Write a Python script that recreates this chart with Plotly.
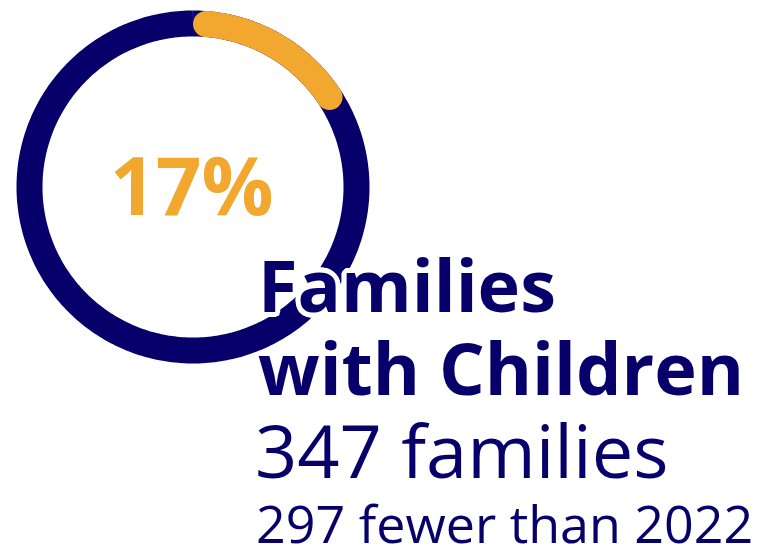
import numpy as np
import plotly.graph_objects as go

NAVY = "#07006B"
ORANGE = "#F2A72F"

# data
share_pct = 17
label_pct = "17%"
title_lines = ["Families", "with Children"]
count_text = "347 families"
change_text = "297 fewer than 2022"

W, H = 761, 552
RING_W = 26          # ring thickness in px
RING_R_PX = 163.5    # mid-line radius in px
CX, CY = 193, 187    # ring centre in px (from top-left)
R_MAX = 1.1

# round caps are kept inside the arc, so trim half the thickness at each end
cap_deg = np.degrees((RING_W / 2) / RING_R_PX)
arc_start = cap_deg
arc_end = share_pct / 100 * 360 - cap_deg

full_theta = np.linspace(0, 360, 361)
arc_theta = np.linspace(arc_start, arc_end, 120)

fig = go.Figure()
fig.add_trace(go.Scatterpolar(
    r=[1] * len(full_theta), theta=full_theta, mode="lines",
    line=dict(color=NAVY, width=RING_W), hoverinfo="skip",
))
fig.add_trace(go.Scatterpolar(
    r=[1] * len(arc_theta), theta=arc_theta, mode="lines",
    line=dict(color=ORANGE, width=RING_W), hoverinfo="skip",
))
# round end caps
fig.add_trace(go.Scatterpolar(
    r=[1, 1], theta=[arc_start, arc_end], mode="markers",
    marker=dict(size=RING_W, color=ORANGE, opacity=1, line=dict(width=0)),
    hoverinfo="skip",
))

rad_px = RING_R_PX * R_MAX
fig.update_layout(
    width=W, height=H,
    paper_bgcolor="white",
    showlegend=False,
    margin=dict(l=0, r=0, t=0, b=0),
    polar=dict(
        domain=dict(x=[(CX - rad_px) / W, (CX + rad_px) / W],
                    y=[(H - CY - rad_px) / H, (H - CY + rad_px) / H]),
        bgcolor="white",
        radialaxis=dict(range=[0, R_MAX], visible=False, showgrid=False),
        angularaxis=dict(rotation=90, direction="clockwise", visible=False,
                         showgrid=False, showline=False),
    ),
)

# white halo round the bold titles, like a stroke behind the glyphs
halo = ", ".join(
    f"{5 * np.cos(a):.1f}px {5 * np.sin(a):.1f}px 0 white"
    for a in np.linspace(0, 2 * np.pi, 24, endpoint=False)
)


def add_text(text, x_px, y_px, size, color, bold, anchor="left", shadow="none"):
    fig.add_annotation(
        text=text, xref="paper", yref="paper",
        x=x_px / W, y=1 - y_px / H, xanchor=anchor, yanchor="middle",
        showarrow=False,
        font=dict(family="Open Sans", size=size, color=color,
                  weight=700 if bold else 400, shadow=shadow),
    )


add_text(label_pct, 191.5, 215 - 0.388 * 80, 80, ORANGE, True, anchor="center")
add_text(title_lines[0], 256, 312 - 0.388 * 72, 72, NAVY, True, shadow=halo)
add_text(title_lines[1], 256, 395 - 0.388 * 72, 72, NAVY, True, shadow=halo)
add_text(count_text, 253, 478 - 0.388 * 74, 74, NAVY, False)
add_text(change_text, 254, 543 - 0.388 * 52, 52, NAVY, False)

fig.write_html("out.html", config={"displayModeBar": False},
               post_script="document.body.style.margin='0';")
